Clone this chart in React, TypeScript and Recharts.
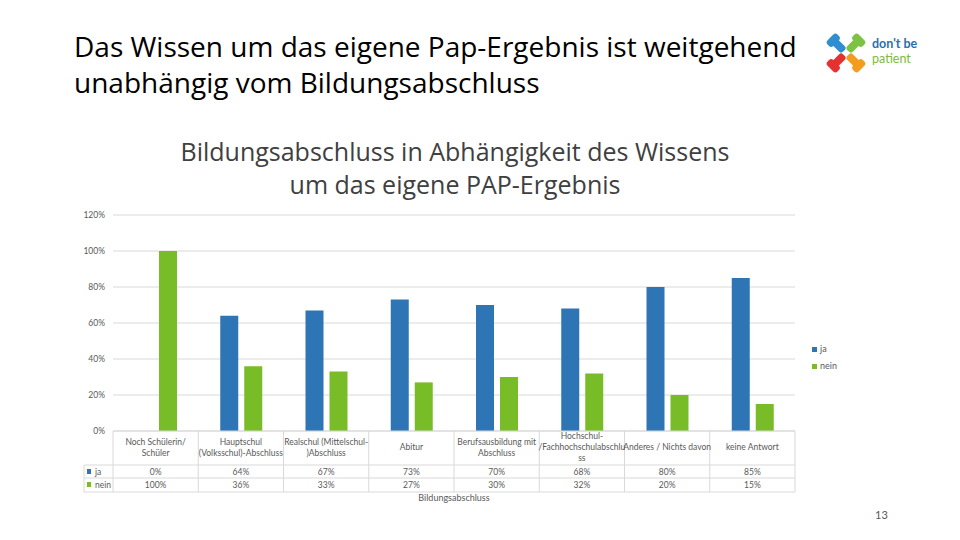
import React from 'react';
import { Bar, BarChart, CartesianGrid, XAxis, YAxis } from 'recharts';

// Bildungsabschluss nach Wissen um das eigene PAP-Ergebnis
const categories = [
  'Noch Schülerin/ Schüler',
  'Hauptschul (Volksschul)-Abschluss',
  'Realschul (Mittelschul-)Abschluss',
  'Abitur',
  'Berufsausbildung mit Abschluss',
  'Hochschul-/Fachhochschulabschluss',
  'Anderes / Nichts davon',
  'keine Antwort',
];
// wie im Original umgebrochen
const categoryLines = [
  ['Noch Schülerin/', 'Schüler'],
  ['Hauptschul', '(Volksschul)-Abschluss'],
  ['Realschul (Mittelschul-', ')Abschluss'],
  ['Abitur'],
  ['Berufsausbildung mit', 'Abschluss'],
  ['Hochschul-', '/Fachhochschulabschlu', 'ss'],
  ['Anderes / Nichts davon'],
  ['keine Antwort'],
];
const ja = [0, 64, 67, 73, 70, 68, 80, 85];
const nein = [100, 36, 33, 27, 30, 32, 20, 15];
const yTicks = [0, 20, 40, 60, 80, 100, 120];

const BLUE = '#2e75b6';
const GREEN = '#78bc27';
const TEXT = '#595959';
const LINE = '#d9d9d9';
const FONT = 'Lato, "Open Sans", sans-serif';
const TITLE_FONT = '"Open Sans", Lato, sans-serif';

const PLOT_LEFT = 113;
const PLOT_RIGHT = 795;
const CELL_W = (PLOT_RIGHT - PLOT_LEFT) / categories.length;

const data = categories.map((name, i) => ({ name, ja: ja[i], nein: nein[i] }));

function TableTick(props: any) {
  const { x, y, payload } = props;
  const i = payload.index;
  const l = x - CELL_W / 2;
  const r = x + CELL_W / 2;
  const headBottom = y + 34;
  const jaBottom = y + 47;
  const neinBottom = y + 61;
  const lines = categoryLines[i];
  const lh = 11;
  const startY = y + 17 - ((lines.length - 1) * lh) / 2;
  return (
    <g fontFamily={FONT} fontSize={8.5} fill={TEXT}>
      {i === 0 && (
        <g>
          <line x1={l} y1={y} x2={l} y2={neinBottom} stroke={LINE} />
          <line x1={84} y1={headBottom} x2={l} y2={headBottom} stroke={LINE} />
          <line x1={84} y1={jaBottom} x2={l} y2={jaBottom} stroke={LINE} />
          <line x1={84} y1={neinBottom} x2={l} y2={neinBottom} stroke={LINE} />
          <line x1={84} y1={headBottom} x2={84} y2={neinBottom} stroke={LINE} />
          <rect x={87} y={headBottom + 4} width={4} height={5} fill={BLUE} />
          <text x={95} y={headBottom + 10} fill={TEXT}>ja</text>
          <rect x={87} y={jaBottom + 4} width={4} height={5} fill={GREEN} />
          <text x={95} y={jaBottom + 10} fill={TEXT}>nein</text>
        </g>
      )}
      <line x1={r} y1={y} x2={r} y2={neinBottom} stroke={LINE} />
      <line x1={l} y1={headBottom} x2={r} y2={headBottom} stroke={LINE} />
      <line x1={l} y1={jaBottom} x2={r} y2={jaBottom} stroke={LINE} />
      <line x1={l} y1={neinBottom} x2={r} y2={neinBottom} stroke={LINE} />
      {lines.map((t, k) => (
        <text key={k} x={x} y={startY + k * lh} textAnchor="middle" dominantBaseline="middle" fill={TEXT}>
          {t}
        </text>
      ))}
      <text x={x} y={headBottom + 10} textAnchor="middle" fill={TEXT}>{ja[i]}%</text>
      <text x={x} y={jaBottom + 10} textAnchor="middle" fill={TEXT}>{nein[i]}%</text>
    </g>
  );
}

function Logo() {
  const hands = [
    { c: '#2e8fd0', r: -135 },
    { c: '#7dc242', r: -45 },
    { c: '#f39c1f', r: 45 },
    { c: '#e5312f', r: 135 },
  ];
  return (
    <svg width={110} height={50} style={{ position: 'absolute', left: 824, top: 28 }}>
      <g transform="translate(22,25)">
        {hands.map((h, k) => (
          <g key={k} transform={`rotate(${h.r})`}>
            <rect x={3} y={-4} width={17} height={8} rx={3} fill={h.c} />
            <rect x={14} y={-7} width={8} height={14} rx={3} fill={h.c} />
          </g>
        ))}
      </g>
      <text x={48} y={20} fontFamily={FONT} fontWeight={700} fontSize={12.5} fill="#2a6fae">don't be</text>
      <text x={48} y={35} fontFamily={FONT} fontSize={12.5} fill="#7dbb3c">patient</text>
    </svg>
  );
}

export default function App() {
  return (
    <div style={{ position: 'absolute', left: 0, top: 0, width: 960, height: 540, background: '#fff', fontFamily: FONT }}>
      <div style={{ position: 'absolute', left: 74, top: 28, fontSize: 28, lineHeight: '36px', color: '#000', fontFamily: TITLE_FONT }}>
        Das Wissen um das eigene Pap-Ergebnis ist weitgehend
        <br />
        unabhängig vom Bildungsabschluss
      </div>
      <Logo />
      <div
        style={{
          position: 'absolute',
          left: 0,
          width: 910,
          top: 135,
          textAlign: 'center',
          fontSize: 25,
          lineHeight: '33px',
          color: '#404040',
          fontFamily: TITLE_FONT,
        }}
      >
        Bildungsabschluss in Abhängigkeit des Wissens
        <br />
        um das eigene PAP-Ergebnis
      </div>
      <div style={{ position: 'absolute', left: 0, top: 0 }}>
        <BarChart
          width={960}
          height={540}
          data={data}
          margin={{ top: 215, right: 960 - PLOT_RIGHT, bottom: 39, left: PLOT_LEFT - 60 }}
          barSize={18}
          barGap={6}
        >
          <CartesianGrid vertical={false} stroke={LINE} />
          <XAxis
            dataKey="name"
            height={70}
            interval={0}
            tickSize={0}
            tickMargin={0}
            axisLine={{ stroke: LINE }}
            tickLine={false}
            tick={<TableTick />}
            label={{ value: 'Bildungsabschluss', position: 'insideBottom', offset: 0, fill: TEXT, fontSize: 9, fontFamily: FONT }}
          />
          <YAxis
            width={60}
            domain={[0, 120]}
            ticks={yTicks}
            tickFormatter={(v: number) => `${v}%`}
            axisLine={false}
            tickLine={false}
            tick={{ fill: TEXT, fontSize: 8.5, fontFamily: FONT }}
          />
          <Bar dataKey="ja" fill={BLUE} isAnimationActive={false} />
          <Bar dataKey="nein" fill={GREEN} isAnimationActive={false} />
        </BarChart>
      </div>
      <div style={{ position: 'absolute', left: 812, top: 340, fontSize: 9, color: TEXT, lineHeight: '17px' }}>
        <div>
          <span style={{ display: 'inline-block', width: 5, height: 5, background: BLUE, marginRight: 3 }} />ja
        </div>
        <div>
          <span style={{ display: 'inline-block', width: 5, height: 5, background: GREEN, marginRight: 3 }} />nein
        </div>
      </div>
      <div style={{ position: 'absolute', left: 875, top: 508, fontSize: 11, color: TEXT }}>13</div>
    </div>
  );
}
